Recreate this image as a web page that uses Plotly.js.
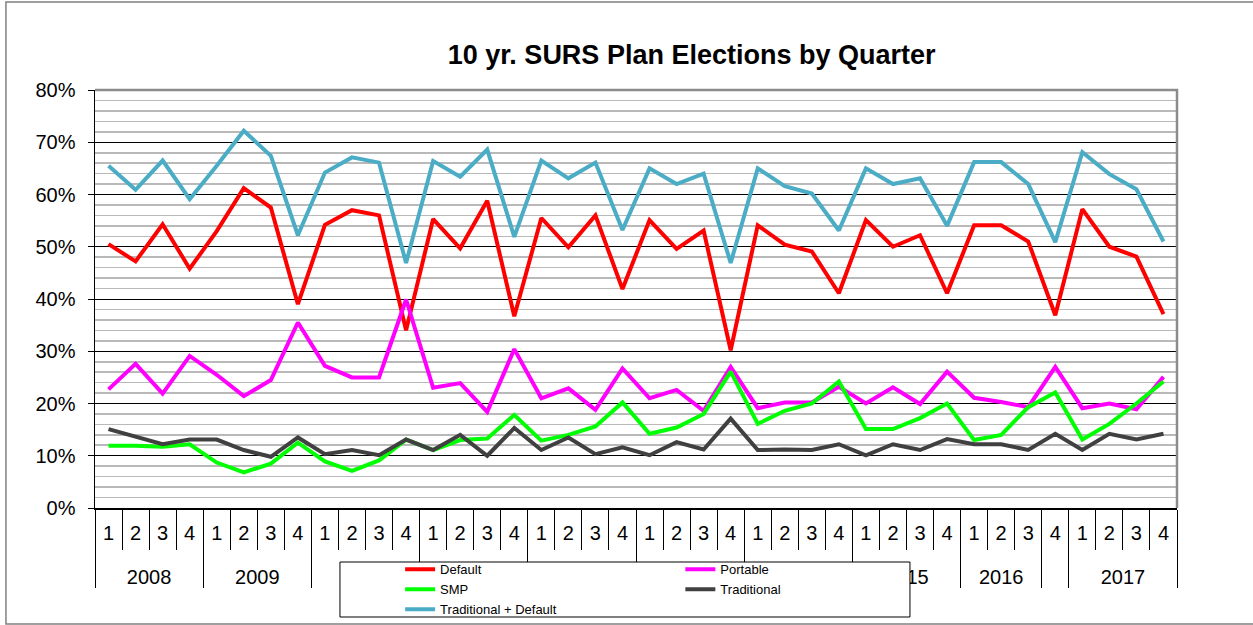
<!DOCTYPE html>
<html>
<head>
<meta charset="utf-8">
<script src="https://cdn.plot.ly/plotly-3.0.1.min.js"></script>
<style>
  html, body { margin: 0; padding: 0; background: #fff; }
  #surs { width: 1253px; height: 625px; }
</style>
</head>
<body>
<div id="surs"></div>
<script>
// quarter / year labels (2016 Q4 sits under a blank year cell in the source)
const quarterLabels = [
  "1", "2", "3", "4", "1", "2", "3", "4", "1", "2", "3", "4", "1", "2", "3", "4",
  "1", "2", "3", "4", "1", "2", "3", "4", "1", "2", "3", "4", "1", "2", "3", "4",
  "1", "2", "3", "4", "1", "2", "3", "4",
];
const yearLabels = [
  "2008", "2008", "2008", "2008", "2009", "2009", "2009", "2009",
  "2010", "2010", "2010", "2010", "2011", "2011", "2011", "2011",
  "2012", "2012", "2012", "2012", "2013", "2013", "2013", "2013",
  "2014", "2014", "2014", "2014", "2015", "2015", "2015", "2015",
  "2016", "2016", "2016", " ", "2017", "2017", "2017", "2017",
];

// percent of elections per quarter
const defaultPct = [
  50.5, 47.2, 54.3, 45.8, 53.0, 61.2, 57.5, 39.0, 54.2, 57.0, 56.0, 34.0,
  55.3, 49.7, 58.8, 36.7, 55.5, 49.9, 56.0, 41.9, 55.1, 49.6, 53.1, 30.2,
  54.1, 50.4, 49.1, 41.1, 55.1, 50.0, 52.2, 41.1, 54.1, 54.1, 51.0, 36.9,
  57.2, 50.0, 48.1, 37.1,
];
const portablePct = [
  22.7, 27.6, 21.9, 29.1, 25.5, 21.4, 24.5, 35.5, 27.2, 25.0, 25.0, 39.9,
  23.0, 23.9, 18.4, 30.4, 21.0, 22.9, 18.8, 26.7, 21.0, 22.6, 18.6, 27.0,
  19.1, 20.2, 20.2, 23.2, 20.0, 23.1, 19.9, 26.1, 21.1, 20.3, 19.3, 27.0,
  19.1, 20.0, 18.9, 25.1,
];
const smpPct = [
  11.9, 11.9, 11.7, 12.2, 8.7, 6.8, 8.5, 12.5, 8.9, 7.1, 9.1, 13.1,
  11.1, 13.0, 13.3, 17.8, 12.9, 14.0, 15.6, 20.2, 14.2, 15.4, 18.0, 26.1,
  16.1, 18.6, 20.0, 24.2, 15.1, 15.1, 17.2, 20.0, 13.0, 14.0, 19.3, 22.1,
  13.1, 16.1, 20.0, 24.2,
];
const traditionalPct = [
  15.1, 13.7, 12.2, 13.1, 13.1, 11.1, 9.8, 13.5, 10.3, 11.1, 10.1, 13.1,
  11.1, 14.0, 10.0, 15.3, 11.1, 13.5, 10.3, 11.6, 10.1, 12.6, 11.2, 17.1,
  11.1, 11.2, 11.1, 12.2, 10.1, 12.2, 11.1, 13.2, 12.2, 12.2, 11.1, 14.2,
  11.1, 14.2, 13.1, 14.2,
];
const tradDefaultPct = [
  65.5, 60.9, 66.5, 59.1, 65.5, 72.2, 67.4, 52.2, 64.2, 67.1, 66.1, 46.9,
  66.4, 63.4, 68.6, 51.9, 66.5, 63.1, 66.1, 53.2, 65.0, 62.0, 64.0, 46.9,
  65.0, 61.6, 60.2, 53.1, 65.0, 62.0, 63.1, 54.0, 66.2, 66.2, 62.0, 50.9,
  68.1, 63.9, 61.0, 51.0,
];

// a leading line break drops the year row below the quarter row
const xCats = [yearLabels.map((y) => "<br>" + y), quarterLabels];

function makeTrace(name, values, color, legendId) {
  return {
    x: xCats,
    y: values,
    type: "scatter",
    mode: "lines",
    name: name,
    legend: legendId,
    line: { color: color, width: 4 },
    hoverinfo: "skip",
  };
}

const traces = [
  makeTrace("Default", defaultPct, "#ff0000", "legend"),
  makeTrace("Portable", portablePct, "#ff00ff", "legend2"),
  makeTrace("SMP", smpPct, "#00ff00", "legend"),
  makeTrace("Traditional", traditionalPct, "#404040", "legend2"),
  makeTrace("Traditional + Default", tradDefaultPct, "#4bacc6", "legend"),
];

const legendFont = { family: "Liberation Sans, Arial, sans-serif", size: 13, color: "#000" };

const layout = {
  width: 1253,
  height: 625,
  margin: { l: 95, r: 76, t: 90, b: 117, autoexpand: false },
  paper_bgcolor: "#fff",
  plot_bgcolor: "#fff",
  font: { family: "Liberation Sans, Arial, sans-serif", color: "#000" },
  title: {
    text: "<b>10 yr. SURS Plan Elections by Quarter</b>",
    font: { size: 27, color: "#000" },
    xref: "container",
    x: 0.552,
    xanchor: "center",
    yref: "container",
    y: 0.912,
    yanchor: "middle",
  },
  xaxis: {
    type: "multicategory",
    range: [-0.5, 39.5],
    automargin: false,
    showline: true,
    linecolor: "#000",
    linewidth: 1.5,
    ticks: "outside",
    tickson: "boundaries",
    ticklen: 40,
    tickcolor: "#000",
    tickwidth: 1,
    ticklabelstandoff: 6,
    tickfont: { size: 20, color: "#000" },
    showdividers: true,
    dividercolor: "#000",
    dividerwidth: 1,
    showgrid: false,
    fixedrange: true,
  },
  yaxis: {
    range: [0, 80],
    dtick: 10,
    ticksuffix: "%",
    automargin: false,
    showline: true,
    linecolor: "#000",
    linewidth: 1.5,
    ticks: "outside",
    ticklen: 6,
    tickcolor: "#000",
    ticklabelstandoff: 8,
    tickfont: { size: 20, color: "#000" },
    showgrid: true,
    gridcolor: "#000",
    gridwidth: 1,
    zeroline: false,
    minor: { dtick: 2, showgrid: true, gridcolor: "#b9b9b9", gridwidth: 1.6 },
    fixedrange: true,
  },
  legend: {
    orientation: "v",
    x: 0.282,
    xanchor: "left",
    y: -0.111,
    yanchor: "top",
    bgcolor: "rgba(0,0,0,0)",
    borderwidth: 0,
    font: legendFont,
    tracegroupgap: 0,
  },
  legend2: {
    orientation: "v",
    x: 0.541,
    xanchor: "left",
    y: -0.111,
    yanchor: "top",
    bgcolor: "rgba(0,0,0,0)",
    borderwidth: 0,
    font: legendFont,
    tracegroupgap: 0,
  },
  shapes: [
    // outer chart frame
    {
      type: "rect", xref: "paper", yref: "paper",
      x0: -0.0823, x1: 1.1, y0: -0.2775, y1: 1.2105,
      line: { color: "#808080", width: 1.5 }, layer: "below",
    },
    // grey top and right plot border
    {
      type: "path", xref: "paper", yref: "paper",
      path: "M 0 1 L 1 1 L 1 0",
      line: { color: "#8c8c8c", width: 2.5 }, layer: "above",
    },
    // legend box laid over the year row
    {
      type: "rect", xref: "paper", yref: "paper",
      x0: 0.2264, x1: 0.7532, y0: -0.2608, y1: -0.1292,
      fillcolor: "#fff", line: { color: "#000", width: 1 }, layer: "above",
    },
  ],
  showlegend: true,
};

Plotly.newPlot("surs", traces, layout, { displayModeBar: false, staticPlot: true });
</script>
</body>
</html>
